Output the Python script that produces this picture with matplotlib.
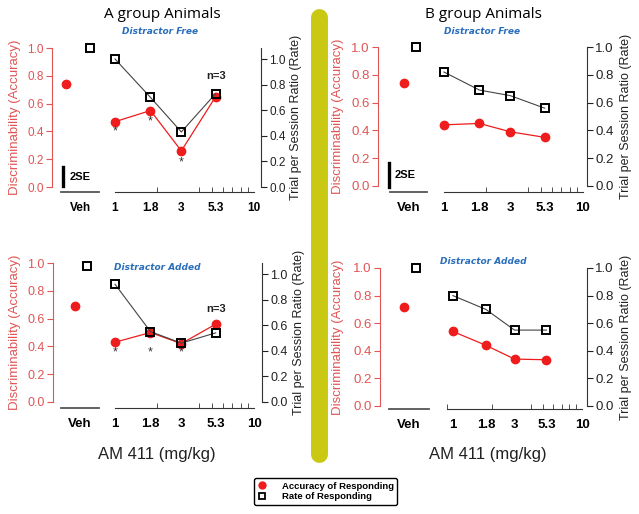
import matplotlib.pyplot as plt
import matplotlib.ticker as mticker
from matplotlib.lines import Line2D

plt.rcParams['font.family'] = ['Liberation Sans', 'DejaVu Sans']

# values
doses = [1, 1.8, 3, 5.3]
dose_labels = ['1', '1.8', '3', '5.3', '10']
dose_label_pos = [1, 1.8, 3, 5.3, 10]

groups = ['A group Animals', 'B group Animals']
conditions = ['Distractor Free', 'Distractor Added']

veh_acc = [0.74, 0.74, 0.69, 0.72]      # A free, B free, A added, B added
veh_rate = [1.0, 1.0, 0.98, 1.0]        # left scale

acc_a_free = [0.47, 0.55, 0.26, 0.65]
acc_b_free = [0.44, 0.45, 0.39, 0.35]
acc_a_added = [0.43, 0.50, 0.42, 0.56]
acc_b_added = [0.54, 0.44, 0.34, 0.335]

rate_a_free = [1.0, 0.70, 0.43, 0.73]
rate_b_free = [0.82, 0.69, 0.65, 0.56]
rate_a_added = [0.92, 0.55, 0.46, 0.54]
rate_b_added = [0.80, 0.70, 0.55, 0.55]

acc_all = [acc_a_free, acc_b_free, acc_a_added, acc_b_added]
rate_all = [rate_a_free, rate_b_free, rate_a_added, rate_b_added]

# significance stars (A group only), y on accuracy scale
star_doses = [1, 1.8, 3]
star_y_free = [0.40, 0.47, 0.18]
star_y_added = [0.36, 0.36, 0.36]

W, H = 639, 514
PT = 0.72  # points per pixel at 100 dpi
RED = '#ee1c1c'
AXRED = '#e05555'

fig = plt.figure(figsize=(W / 100, H / 100), dpi=100)


def rect(x0, x1, ytop, ybot):
    return [x0 / W, 1 - ybot / H, (x1 - x0) / W, (ybot - ytop) / H]


# pixel layout of the four panels
layouts = [
    dict(lsp=52, veh=(61, 99), dose=(115, 254), rsp=261, ytop=48, ybot=187, xline=192,
         rtop=1.086, xlim=(1, 10), vx=(0.13, 0.76), fs=8.5, xfs=8.5, ll=15, rl=296),
    dict(lsp=378, veh=(390, 427), dose=(444, 583), rsp=587, ytop=47, ybot=186, xline=192,
         rtop=1.0, xlim=(1, 10), vx=(0.38, 0.70), fs=9.5, xfs=9.5, ll=338, rl=626),
    dict(lsp=53, veh=(61, 99), dose=(115, 254), rsp=262, ytop=263, ybot=402, xline=408,
         rtop=1.086, xlim=(1, 10), vx=(0.37, 0.68), fs=9, xfs=9.5, ll=15, rl=299),
    dict(lsp=380, veh=(389, 429), dose=(447, 582), rsp=587, ytop=268, ybot=406, xline=409,
         rtop=1.0, xlim=(0.9, 10), vx=(0.375, 0.675), fs=9.5, xfs=9.5, ll=338, rl=626),
]

for i, L in enumerate(layouts):
    # vehicle part with the accuracy axis
    ax_v = fig.add_axes(rect(L['veh'][0], L['veh'][1], L['ytop'], L['ybot']))
    ax_v.set_xlim(0, 1)
    ax_v.set_ylim(0, 1)
    ax_v.patch.set_alpha(0)
    ax_v.spines[['top', 'right']].set_visible(False)
    ax_v.spines['left'].set_position(('outward', (L['veh'][0] - L['lsp']) * PT))
    ax_v.spines['left'].set_color(AXRED)
    ax_v.spines['bottom'].set_position(('outward', (L['xline'] - L['ybot']) * PT))
    ax_v.spines['bottom'].set_color('#555555')
    ax_v.spines['bottom'].set_linewidth(1.3)
    ax_v.set_yticks([0, 0.2, 0.4, 0.6, 0.8, 1.0])
    ax_v.yaxis.set_major_formatter(mticker.FormatStrFormatter('%.1f'))
    ax_v.tick_params(axis='y', colors=AXRED, labelsize=L['fs'], length=4, pad=2)
    ax_v.set_xticks([0.5])
    ax_v.set_xticklabels(['Veh'], fontweight='bold', fontsize=L['xfs'])
    ax_v.tick_params(axis='x', length=0, pad=7)
    ax_v.plot(L['vx'][0], veh_acc[i], 'o', color=RED, ms=6, clip_on=False)
    ax_v.plot(L['vx'][1], veh_rate[i], 's', mfc='none', mec='black', ms=6, mew=1.4,
              clip_on=False)

    # dose part
    ax_d = fig.add_axes(rect(L['dose'][0], L['dose'][1], L['ytop'], L['ybot']))
    ax_d.set_xscale('log')
    ax_d.set_xlim(*L['xlim'])
    ax_d.set_ylim(0, 1)
    ax_d.patch.set_alpha(0)
    ax_d.spines[['top', 'right', 'left']].set_visible(False)
    ax_d.spines['bottom'].set_position(('outward', (L['xline'] - L['ybot']) * PT))
    ax_d.spines['bottom'].set_color('#333333')
    ax_d.set_yticks([])
    ax_d.xaxis.set_major_locator(mticker.FixedLocator(dose_label_pos))
    ax_d.xaxis.set_major_formatter(mticker.FixedFormatter(dose_labels))
    minor = [m for m in [0.9, 1, 2, 3, 4, 5, 6, 7, 8, 9, 10] if m >= L['xlim'][0]]
    ax_d.xaxis.set_minor_locator(mticker.FixedLocator(minor))
    ax_d.xaxis.set_minor_formatter(mticker.NullFormatter())
    ax_d.tick_params(axis='x', which='major', length=0, pad=7, labelsize=L['xfs'])
    ax_d.tick_params(axis='x', which='minor', direction='in', length=3.5, color='#333333')
    for lab in ax_d.get_xticklabels():
        lab.set_fontweight('bold')

    ax_r = ax_d.twinx()
    ax_r.set_ylim(0, L['rtop'])
    ax_r.spines[['top', 'left', 'bottom']].set_visible(False)
    ax_r.spines['right'].set_position(('outward', (L['rsp'] - L['dose'][1]) * PT))
    ax_r.spines['right'].set_color('#333333')
    ax_r.set_yticks([0, 0.2, 0.4, 0.6, 0.8, 1.0])
    ax_r.yaxis.set_major_formatter(mticker.FormatStrFormatter('%.1f'))
    ax_r.tick_params(axis='y', labelsize=L['fs'], length=4, pad=2, colors='#222222')

    ax_d.plot(doses, acc_all[i], '-o', color=RED, lw=0.9, ms=6, clip_on=False)
    ax_r.plot(doses, rate_all[i], '-s', color='#444444', lw=0.8, mfc='none',
              mec='black', ms=6, mew=1.4, clip_on=False)

    if i in (0, 2):
        sy = star_y_free if i == 0 else star_y_added
        for d, y in zip(star_doses, sy):
            ax_d.text(d, y, '*', ha='center', va='center', fontsize=9, color='#333333')
        ny = 0.80 if i == 0 else 0.67
        ax_d.text(5.3, ny, 'n=3', ha='center', va='center', fontsize=8,
                  fontweight='bold', color='#222222')

    cy = (L['ytop'] + L['ybot']) / 2
    fig.text(L['ll'] / W, 1 - cy / H, 'Discriminability (Accuracy)', rotation=90,
             ha='center', va='center', color=AXRED, fontsize=9.5)
    fig.text(L['rl'] / W, 1 - cy / H, 'Trial per Session Ratio (Rate)', rotation=90,
             ha='center', va='center', color='#222222', fontsize=9)

# 2SE scale bars (top panels)
for bx, by0, by1, tx in [(63, 167, 186, 70), (389, 163, 187, 395)]:
    fig.add_artist(Line2D([bx / W, bx / W], [1 - by0 / H, 1 - by1 / H], color='black',
                          lw=2.4, transform=fig.transFigure))
    fig.text(tx / W, 1 - ((by0 + by1) / 2) / H, '2SE', fontsize=8, fontweight='bold',
             ha='left', va='center')

# titles and condition labels
fig.text(162 / W, 1 - 14 / H, groups[0], fontsize=11, ha='center', va='center',
         family='Open Sans')
fig.text(483 / W, 1 - 14 / H, groups[1], fontsize=11, ha='center', va='center',
         family='Open Sans')
for x, y, s in [(160, 31, conditions[0]), (482, 31, conditions[0]),
                (157, 267, conditions[1]), (483, 261, conditions[1])]:
    fig.text(x / W, 1 - y / H, s, fontsize=6.5, fontweight='bold', style='italic',
             color='#2a6ebb', ha='center', va='center', family='DejaVu Sans')

for x in (157, 488):
    fig.text(x / W, 1 - 454 / H, 'AM 411 (mg/kg)', fontsize=12, ha='center',
             va='center', color='#222222')

# yellow divider
fig.add_artist(Line2D([318.5 / W, 318.5 / W], [1 - 17 / H, 1 - 454 / H],
                      color='#c9c914', lw=12.2, solid_capstyle='round',
                      transform=fig.transFigure))

# legend
handles = [Line2D([], [], marker='o', color=RED, ls='none', ms=5),
           Line2D([], [], marker='s', mfc='none', mec='black', mew=1.3, ls='none', ms=5)]
leg = fig.legend(handles, ['Accuracy of Responding', 'Rate of Responding'],
                 loc='center', bbox_to_anchor=(325.5 / W, 1 - 491.5 / H),
                 prop=dict(weight='bold', size=6.8), fancybox=True, edgecolor='black',
                 framealpha=1, handlelength=1, handletextpad=1.6, borderpad=0.35,
                 labelspacing=0.15)
leg.get_frame().set_linewidth(1.0)

fig.savefig('out.png', dpi=100)
